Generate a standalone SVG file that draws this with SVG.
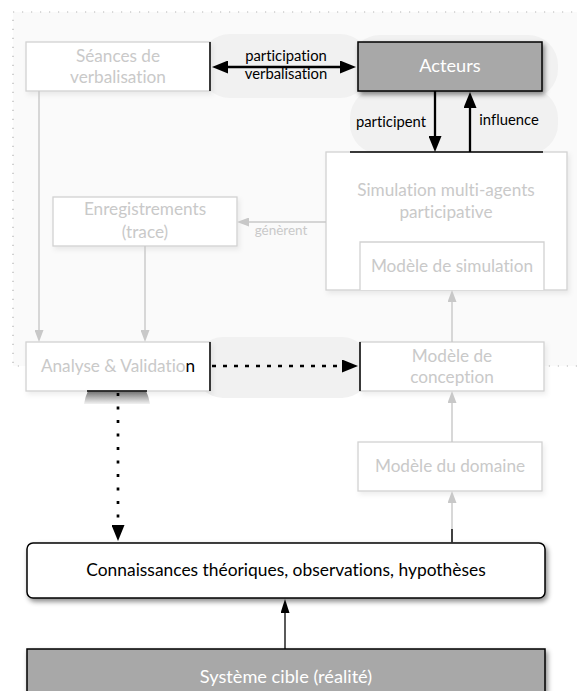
<svg xmlns="http://www.w3.org/2000/svg" width="577" height="691" viewBox="0 0 577 691">
<style>
text{font-family:Lato,"Open Sans","DejaVu Sans",sans-serif;text-anchor:middle;font-variant-ligatures:none}
.ft{fill:#c9c9c9;font-size:17.2px}
.fb{fill:#fff;stroke:#d2d2d2;stroke-width:1.3}
.lb{fill:#000;font-size:14.8px}
.fa{stroke:#c8c8c8;stroke-width:1.4;fill:none}
.ba{stroke:#000;fill:none}
.halo{fill:#f1f1f1}
.dk{fill:#a8a8a8;stroke:#000;stroke-width:1.5}
.wt{fill:#fff;font-size:18.2px}
</style>
<defs>
<filter id="shd" x="-10%" y="-20%" width="125%" height="160%"><feDropShadow dx="2" dy="3" stdDeviation="2.5" flood-color="#000" flood-opacity="0.45"/></filter>
<filter id="shf" x="-10%" y="-20%" width="125%" height="160%"><feDropShadow dx="2" dy="3" stdDeviation="2.5" flood-color="#000" flood-opacity="0.07"/></filter>
<marker id="bh" viewBox="0 0 16 13" refX="10" refY="6.5" markerWidth="16" markerHeight="13" markerUnits="userSpaceOnUse" orient="auto-start-reverse"><path d="M0,0 L16,6.5 L0,13 z" fill="#000"/></marker>
<marker id="sh" viewBox="0 0 14 9" refX="10" refY="4.5" markerWidth="14" markerHeight="9" markerUnits="userSpaceOnUse" orient="auto"><path d="M0,0 L14,4.5 L0,9 z" fill="#000"/></marker>
<marker id="gh" viewBox="0 0 12 9" refX="8" refY="4.5" markerWidth="12" markerHeight="9" markerUnits="userSpaceOnUse" orient="auto"><path d="M0,0 L12,4.5 L0,9 z" fill="#c8c8c8"/></marker>
<linearGradient id="gs" x1="0" y1="0" x2="0" y2="1"><stop offset="0" stop-color="#777"/><stop offset="1" stop-color="#f2f2f2"/></linearGradient>
</defs>
<rect width="577" height="691" fill="#fff"/>
<g id="overlay">
<rect x="13" y="12" width="600" height="354" fill="#fafafa" stroke="#b5b5b5" stroke-width="1.2" stroke-dasharray="1.2 7.8"/>
</g>
<g id="halos">
<rect class="halo" x="200" y="34" width="170" height="64" rx="30"/>
<rect class="halo" x="350" y="35" width="208" height="64" rx="30"/>
<rect class="halo" x="350" y="88" width="208" height="66" rx="30"/>
<rect class="halo" x="195" y="337" width="175" height="61" rx="28"/>
<path d="M88,391 L146,391 Q149,397 150,404 L84,404 Q85,397 88,391 z" fill="url(#gs)"/>
</g>
<g id="seances">
<rect class="fb" x="26" y="42" width="184" height="49" filter="url(#shf)"/>
<line x1="210" y1="42" x2="210" y2="91" stroke="#000" stroke-width="1.5"/>
<text class="ft" x="118" y="62">Séances de</text>
<text class="ft" x="118" y="83">verbalisation</text>
</g>
<g id="acteurs">
<rect class="dk" x="358" y="42" width="184" height="49" filter="url(#shd)"/>
<text class="wt" x="450" y="72">Acteurs</text>
</g>
<g id="simulation">
<rect class="fb" x="326" y="152" width="241" height="138" filter="url(#shf)"/>
<line x1="350" y1="152" x2="543" y2="152" stroke="#000" stroke-width="1.5"/>
<text class="ft" x="446" y="196">Simulation multi-agents</text>
<text class="ft" x="446" y="218">participative</text>
</g>
<g id="modele-simulation">
<path d="M360,290 L360,242 L544,242 L544,290" class="fb"/>
<text class="ft" x="452" y="272">Modèle de simulation</text>
</g>
<g id="enregistrements">
<rect class="fb" x="53" y="197" width="184" height="49" filter="url(#shf)"/>
<text class="ft" x="145" y="215">Enregistrements</text>
<text class="ft" x="145" y="238">(trace)</text>
</g>
<g id="analyse">
<rect class="fb" x="26" y="342" width="184" height="49" filter="url(#shf)"/>
<line x1="210" y1="342" x2="210" y2="391" stroke="#000" stroke-width="1.5"/>
<line x1="87" y1="391" x2="147" y2="391" stroke="#000" stroke-width="1.5"/>
<text class="ft" x="118" y="372">Analyse &amp; Validatio<tspan fill="#000">n</tspan></text>
</g>
<g id="conception">
<rect class="fb" x="360" y="342" width="184" height="49" filter="url(#shf)"/>
<line x1="360" y1="342" x2="360" y2="391" stroke="#000" stroke-width="1.5"/>
<text class="ft" x="452" y="362">Modèle de</text>
<text class="ft" x="452" y="383">conception</text>
</g>
<g id="domaine">
<rect class="fb" x="358" y="442" width="184" height="49" filter="url(#shf)"/>
<text class="ft" x="450" y="472">Modèle du domaine</text>
</g>
<g id="connaissances">
<rect x="27" y="543" width="518" height="55" rx="6" fill="#fff" stroke="#000" stroke-width="1.5" filter="url(#shd)"/>
<text x="286" y="576" font-size="17.4px" fill="#000">Connaissances théoriques, observations, hypothèses</text>
</g>
<g id="systeme">
<rect class="dk" x="27" y="649" width="518" height="50" filter="url(#shd)"/>
<text class="wt" x="286" y="683" font-size="17.2px">Système cible (réalité)</text>
</g>
<g id="connectors">
<line class="fa" x1="39" y1="91" x2="39" y2="338" marker-end="url(#gh)"/>
<line class="fa" x1="145" y1="246" x2="145" y2="338" marker-end="url(#gh)"/>
<line class="fa" x1="326" y1="222" x2="241" y2="222" marker-end="url(#gh)"/>
<text x="281" y="235" font-size="13.5px" fill="#c9c9c9">génèrent</text>
<line class="fa" x1="452" y1="342" x2="452" y2="294" marker-end="url(#gh)"/>
<line class="fa" x1="452" y1="442" x2="452" y2="395" marker-end="url(#gh)"/>
<line class="fa" x1="452" y1="543" x2="452" y2="495" marker-end="url(#gh)"/>
<line x1="452" y1="529" x2="452" y2="543" stroke="#000" stroke-width="1.4"/>
<line class="ba" x1="218" y1="67" x2="350" y2="67" stroke-width="2.5" marker-start="url(#bh)" marker-end="url(#bh)"/>
<text class="lb" x="286" y="61">participation</text>
<text class="lb" x="286" y="79">verbalisation</text>
<line class="ba" x1="435" y1="91" x2="435" y2="146" stroke-width="2.3" marker-end="url(#bh)"/>
<text class="lb" x="391" y="127">participent</text>
<line class="ba" x1="470" y1="152" x2="470" y2="98" stroke-width="2.3" marker-end="url(#bh)"/>
<text class="lb" x="509" y="125">influence</text>
<line class="ba" x1="212" y1="366" x2="352" y2="366" stroke-width="2.5" stroke-dasharray="4 7" marker-end="url(#bh)"/>
<line class="ba" x1="118" y1="393" x2="118" y2="535" stroke-width="2.7" stroke-dasharray="3 10.5" marker-end="url(#bh)"/>
<line class="ba" x1="285" y1="649" x2="285" y2="603" stroke-width="1.3" marker-end="url(#sh)"/>
</g>
</svg>
